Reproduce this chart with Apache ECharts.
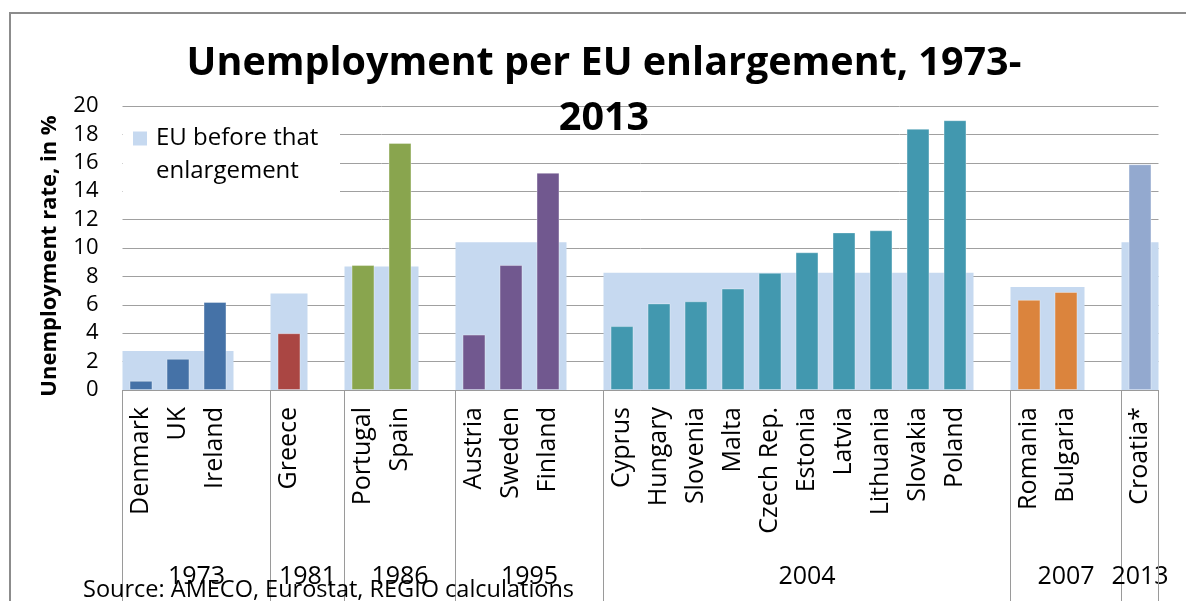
<!DOCTYPE html>
<html>
<head>
<meta charset="utf-8">
<title>Unemployment per EU enlargement, 1973-2013</title>
<script src="https://cdn.jsdelivr.net/npm/echarts@6/dist/echarts.min.js"></script>
<style>
  html, body { margin: 0; padding: 0; background: #ffffff; }
  #chart { width: 1186px; height: 601px; }
</style>
</head>
<body>
<div id="chart"></div>
<script>
// Enlargement rounds (year of accession)
const enlargementYears = ['1973', '1981', '1986', '1995', '2004', '2007', '2013'];

// Unemployment rate of the EU before each enlargement, in %
const euBeforeRate = [2.75, 6.8, 8.7, 10.4, 8.25, 7.25, 10.4];

// Acceding member states per enlargement
const memberStates = [
  ['Denmark', 'UK', 'Ireland'],
  ['Greece'],
  ['Portugal', 'Spain'],
  ['Austria', 'Sweden', 'Finland'],
  ['Cyprus', 'Hungary', 'Slovenia', 'Malta', 'Czech Rep.', 'Estonia', 'Latvia', 'Lithuania', 'Slovakia', 'Poland'],
  ['Romania', 'Bulgaria'],
  ['Croatia*']
];

// Unemployment rate of each acceding state, in %
const memberRates = [
  [0.65, 2.2, 6.2],
  [4.0],
  [8.8, 17.4],
  [3.9, 8.8, 15.3],
  [4.5, 6.1, 6.25, 7.15, 8.25, 9.7, 11.1, 11.25, 18.4, 19.0],
  [6.35, 6.9],
  [15.9]
];

const sourceNote = 'Source: AMECO, Eurostat, REGIO calculations';

// Bar colour of each enlargement round
const roundColors = ['#4572A7', '#AA4643', '#89A54E', '#71588F', '#4298AF', '#DB843D', '#93A9CF'];
const euBeforeColor = '#C6D9F0';
const fontFamily = '"Open Sans", "Noto Sans", sans-serif';

// Lay the countries out on one category axis, one empty slot after each round
const categories = [];
const slotRound = [];
const countryValues = [];
const roundSpans = [];   // [first slot, last slot incl. spacer, round]
const euBeforeSpans = []; // [first country slot, last country slot, EU rate]
enlargementYears.forEach((year, g) => {
  const start = categories.length;
  memberStates[g].forEach((name, i) => {
    categories.push(name);
    slotRound.push(g);
    countryValues.push(memberRates[g][i]);
  });
  euBeforeSpans.push([start, categories.length - 1, euBeforeRate[g]]);
  if (g < enlargementYears.length - 1) {
    categories.push('');
    slotRound.push(g);
    countryValues.push('-');
  }
  roundSpans.push([start, categories.length - 1, g]);
});

const chart = echarts.init(document.getElementById('chart'), null, { renderer: 'canvas' });

const option = {
  animation: false,
  backgroundColor: '#ffffff',
  title: {
    text: 'Unemployment per EU enlargement, 1973-\n2013',
    left: 604,
    top: 36,
    padding: 0,
    textAlign: 'center',
    textStyle: {
      fontFamily: fontFamily,
      fontWeight: 'bold',
      fontSize: 39.5,
      lineHeight: 55,
      color: '#000000'
    }
  },
  legend: {
    data: ['EU before that enlargement'],
    left: 133,
    top: 89,
    orient: 'vertical',
    padding: 0,
    icon: 'rect',
    itemWidth: 14,
    itemHeight: 14,
    selectedMode: false,
    // leading blank line keeps the first text line level with the swatch
    formatter: () => '\nEU before that\nenlargement',
    textStyle: {
      fontFamily: fontFamily,
      fontSize: 24,
      lineHeight: 33,
      color: '#000000',
      padding: [0, 0, 0, 4]
    },
    z: 10
  },
  grid: {
    left: 122.5,
    right: 27.5,
    top: 106,
    bottom: 211,
    containLabel: false
  },
  xAxis: {
    type: 'category',
    data: categories,
    boundaryGap: true,
    axisLine: { show: true, lineStyle: { color: '#9a9a9a', width: 1 } },
    axisTick: { show: false },
    axisLabel: {
      interval: 0,
      rotate: 90,
      margin: 17,
      fontFamily: fontFamily,
      fontSize: 25,
      color: '#000000'
    },
    splitLine: { show: false }
  },
  yAxis: {
    type: 'value',
    min: 0,
    max: 20,
    interval: 2,
    name: 'Unemployment rate, in %',
    nameLocation: 'middle',
    nameRotate: 90,
    nameGap: 62,
    nameTextStyle: {
      fontFamily: fontFamily,
      fontWeight: 'bold',
      fontSize: 22,
      color: '#000000',
      padding: [0, 16, 0, 0]
    },
    axisLine: { show: false },
    axisTick: { show: false },
    axisLabel: {
      margin: 24,
      fontFamily: fontFamily,
      fontSize: 22,
      color: '#000000'
    },
    splitLine: { show: true, lineStyle: { color: '#a0a0a0', width: 1 } }
  },
  series: [
    {
      // one wide block per round: EU rate before that enlargement
      name: 'EU before that enlargement',
      type: 'custom',
      data: euBeforeSpans,
      encode: { x: [0, 1], y: 2 },
      itemStyle: { color: euBeforeColor },
      z: 2,
      renderItem: (params, api) => {
        const band = api.size([1, 0])[0];
        const pStart = api.coord([api.value(0), api.value(2)]);
        const pEnd = api.coord([api.value(1), 0]);
        const x0 = pStart[0] - band / 2;
        const x1 = pEnd[0] + band / 2;
        return {
          type: 'rect',
          shape: { x: x0, y: pStart[1], width: x1 - x0, height: pEnd[1] - pStart[1] },
          style: { fill: euBeforeColor }
        };
      }
    },
    {
      name: 'Unemployment rate',
      type: 'bar',
      barCategoryGap: '38%',
      data: countryValues,
      itemStyle: {
        color: (p) => roundColors[slotRound[p.dataIndex]],
        borderColor: 'rgba(255,255,255,0.35)',
        borderWidth: 1
      },
      z: 3
    },
    {
      // Round separators and accession years under the country names
      name: 'Enlargement rounds',
      type: 'custom',
      data: roundSpans,
      encode: { x: [0, 1], y: 2 },
      clip: false,
      z: 4,
      renderItem: (params, api) => {
        const start = api.value(0);
        const end = api.value(1);
        const g = api.value(2);
        const band = api.size([1, 0])[0];
        const p0 = api.coord([start, 0]);
        const p1 = api.coord([end, 0]);
        const x0 = p0[0] - band / 2;
        const x1 = p1[0] + band / 2;
        const y0 = p0[1];
        const children = [
          {
            type: 'line',
            shape: { x1: x0, y1: y0, x2: x0, y2: y0 + 215 },
            style: { stroke: '#9a9a9a', lineWidth: 1 }
          },
          {
            type: 'text',
            style: {
              text: enlargementYears[g],
              x: (x0 + x1) / 2,
              y: y0 + 187,
              align: 'center',
              verticalAlign: 'middle',
              fontFamily: fontFamily,
              fontSize: 25,
              fill: '#000000'
            }
          }
        ];
        if (g === enlargementYears.length - 1) {
          children.push({
            type: 'line',
            shape: { x1: x1, y1: y0, x2: x1, y2: y0 + 215 },
            style: { stroke: '#9a9a9a', lineWidth: 1 }
          });
        }
        return { type: 'group', children: children };
      }
    }
  ],
  graphic: [
    {
      // chart frame (top and left edges)
      type: 'polyline',
      shape: { points: [[10, 601], [10, 13], [1186, 13]] },
      style: { stroke: '#8c8c8c', lineWidth: 2, fill: null },
      z: 1
    },
    {
      // white panel behind the legend, hiding the gridlines there
      type: 'rect',
      shape: { x: 123, y: 114, width: 217, height: 83 },
      style: { fill: '#ffffff' },
      z: 5
    },
    {
      type: 'text',
      left: 83,
      top: 578,
      style: {
        text: sourceNote,
        fontFamily: fontFamily,
        fontSize: 23.5,
        fill: '#000000'
      },
      z: 5
    }
  ]
};

chart.setOption(option);
</script>
</body>
</html>
